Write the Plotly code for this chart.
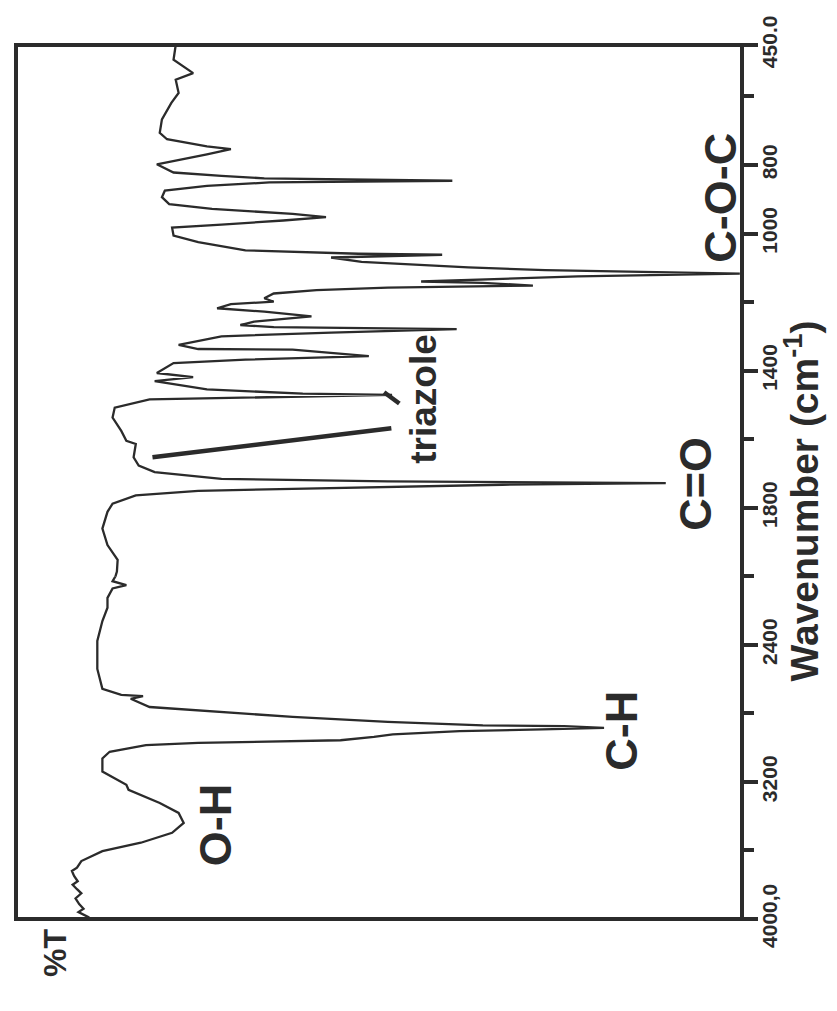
import plotly.graph_objects as go

# ---- data (wavenumber in cm-1, transmittance in %T) ----
wavenumber = [450, 493, 532, 551, 590, 619, 667, 706, 725, 746,
              754, 769, 798, 822, 832, 839, 846, 851, 861, 875,
              894, 914, 928, 943, 952, 962, 974, 983, 1006, 1025,
              1049, 1059, 1062, 1070, 1083, 1090, 1099, 1107, 1113, 1117,
              1125, 1134, 1140, 1144, 1152, 1158, 1165, 1175, 1189, 1199,
              1206, 1218, 1228, 1242, 1257, 1267, 1273, 1279, 1289, 1300,
              1325, 1337, 1339, 1358, 1368, 1378, 1407, 1419, 1431, 1455,
              1467, 1471, 1479, 1484, 1508, 1537, 1576, 1605, 1614, 1653,
              1677, 1696, 1716, 1723, 1728, 1733, 1745, 1751, 1764, 1788,
              1812, 1861, 1909, 1952, 1986, 2029, 2052, 2071, 2126, 2184,
              2261, 2377, 2541, 2657, 2692, 2700, 2715, 2763, 2792, 2821,
              2850, 2870, 2875, 2885, 2893, 2904, 2923, 2937, 2957, 2972,
              2986, 3024, 3063, 3140, 3217, 3246, 3323, 3381, 3439, 3497,
              3555, 3604, 3662, 3700, 3720, 3749, 3780, 3800, 3826, 3850,
              3880, 3913, 3940, 3960, 3990, 4000]

transmittance = [78.0, 78.3, 75.6, 78.0, 77.6, 78.6, 79.9, 80.2, 79.2, 73.7,
                 70.4, 73.7, 80.6, 78.3, 71.7, 65.8, 39.9, 65.1, 73.7, 79.5,
                 79.9, 78.9, 73.0, 61.9, 57.3, 63.2, 71.7, 78.5, 78.3, 74.9,
                 68.4, 52.8, 41.3, 56.6, 52.4, 45.6, 37.7, 27.1, 6.9, 0.3,
                 22.6, 35.7, 44.2, 35.7, 28.8, 48.8, 58.6, 64.5, 65.8, 64.5,
                 70.4, 72.3, 65.8, 59.3, 67.2, 69.1, 64.5, 39.3, 56.6, 71.7,
                 77.6, 74.9, 61.9, 51.4, 68.4, 78.3, 80.6, 75.6, 80.9, 73.7,
                 60.5, 48.2, 68.4, 81.6, 86.4, 86.7, 85.5, 84.8, 83.5, 83.8,
                 83.1, 80.9, 71.7, 48.8, 10.5, 33.0, 61.9, 74.9, 83.5, 86.7,
                 87.4, 88.1, 87.4, 86.0, 86.1, 86.7, 84.8, 86.7, 87.4, 87.4,
                 88.1, 88.8, 88.8, 88.1, 85.5, 82.5, 84.2, 81.6, 71.7, 61.9,
                 48.8, 35.7, 24.5, 19.0, 27.5, 38.9, 48.1, 50.7, 55.3, 74.9,
                 82.1, 87.1, 88.1, 88.1, 84.8, 84.5, 80.2, 77.6, 76.9, 78.5,
                 82.8, 88.1, 91.0, 91.6, 92.3, 92.0, 91.5, 92.2, 91.6, 91.0,
                 91.8, 91.3, 90.7, 91.4, 90.0, 89.8]

# axis scale break (spectrometer halves the scale above 2000 cm-1)
wn_low, wn_break, wn_high = 450, 2000, 4000

top_ticks = [450, 800, 1000, 1400, 1800]
top_tick_text = ["450.0", "800", "1000", "1400", "1800"]
top_minor = [600, 1200, 1600]
bottom_ticks = [2400, 3200, 4000]
bottom_tick_text = ["2400", "3200", "4000,0"]
bottom_minor = [2000, 2800, 3600]

# band labels: text, %T position, wavenumber position, axis
band_labels = [
    ("O-H", 72.5, 3449, "y"),
    ("C-H", 16.6, 2899, "y"),
    ("C=O", 6.5, 1731, "y2"),
    ("C-O-C", 3.0, 895, "y2"),
]
triazole_label = ("triazole", 43.8, 1482)
# pointer strokes for the triazole label: (T0, wn0, T1, wn1)
triazole_pointers = [(81.2, 1653, 48.3, 1568), (49.3, 1463, 47.2, 1496)]

INK = "#2b2b2b"
FONT = "Liberation Sans, Arial, sans-serif"
TICKFONT = "Liberation Sans Narrow, Liberation Sans, Arial, sans-serif"

fig = go.Figure()
for ya in ("y", "y2"):
    fig.add_trace(go.Scatter(x=transmittance, y=wavenumber, mode="lines",
                             line=dict(color=INK, width=2.3), yaxis=ya,
                             showlegend=False, hoverinfo="skip"))

# domain split proportional to the half-scale region
d = (wn_high - wn_break) / 2 / ((wn_high - wn_break) / 2 + (wn_break - wn_low))

common_y = dict(side="right", showgrid=False, zeroline=False, showline=False,
                ticks="outside", ticklen=15, tickwidth=3.5, tickcolor=INK,
                tickangle=-90, ticklabelstandoff=-6,
                tickfont=dict(family=TICKFONT, size=21, color=INK, weight="bold"))

fig.update_layout(
    width=837, height=1011,
    margin=dict(l=8, r=103, t=31, b=100),
    paper_bgcolor="white", plot_bgcolor="white",
    xaxis=dict(range=[100, 0], showgrid=False, zeroline=False, showline=False,
               showticklabels=False, ticks=""),
    yaxis=dict(domain=[0, d], range=[wn_high, wn_break], tickmode="array",
               tickvals=bottom_ticks, ticktext=bottom_tick_text,
               minor=dict(tickvals=bottom_minor, ticks="outside", ticklen=11,
                          tickwidth=3.5, tickcolor=INK),
               **common_y),
    yaxis2=dict(domain=[d, 1], range=[wn_break, wn_low], anchor="x", tickmode="array",
                tickvals=top_ticks, ticktext=top_tick_text,
                minor=dict(tickvals=top_minor, ticks="outside", ticklen=11,
                           tickwidth=3.5, tickcolor=INK),
                **common_y),
)

# frame
fig.add_shape(type="rect", xref="paper", yref="paper", x0=0, x1=1, y0=0, y1=1,
              line=dict(color=INK, width=4))

for txt, t, w, ya in band_labels:
    fig.add_annotation(text=txt, x=t, y=w, xref="x", yref=ya, textangle=-90,
                       showarrow=False, xanchor="center", yanchor="middle",
                       font=dict(family=FONT, size=45, color=INK, weight="bold"))

fig.add_annotation(text=triazole_label[0], x=triazole_label[1], y=triazole_label[2],
                   xref="x", yref="y2", textangle=-90, showarrow=False,
                   font=dict(family=FONT, size=37, color=INK, weight="bold"))
for t0, w0, t1, w1 in triazole_pointers:
    fig.add_shape(type="line", xref="x", yref="y2", x0=t0, y0=w0, x1=t1, y1=w1,
                  line=dict(color=INK, width=4.5))

fig.add_annotation(text="Wavenumber (cm<sup>-1</sup>)", xref="paper", yref="paper",
                   x=1.118, y=0.478, textangle=-90, showarrow=False,
                   font=dict(family=FONT, size=39, color=INK, weight="bold"))
fig.add_annotation(text="%T", xref="paper", yref="paper", x=0.027, y=-0.069,
                   textangle=-90, showarrow=False,
                   font=dict(family=FONT, size=32, color=INK, weight="bold"))

fig.write_html("out.html")
